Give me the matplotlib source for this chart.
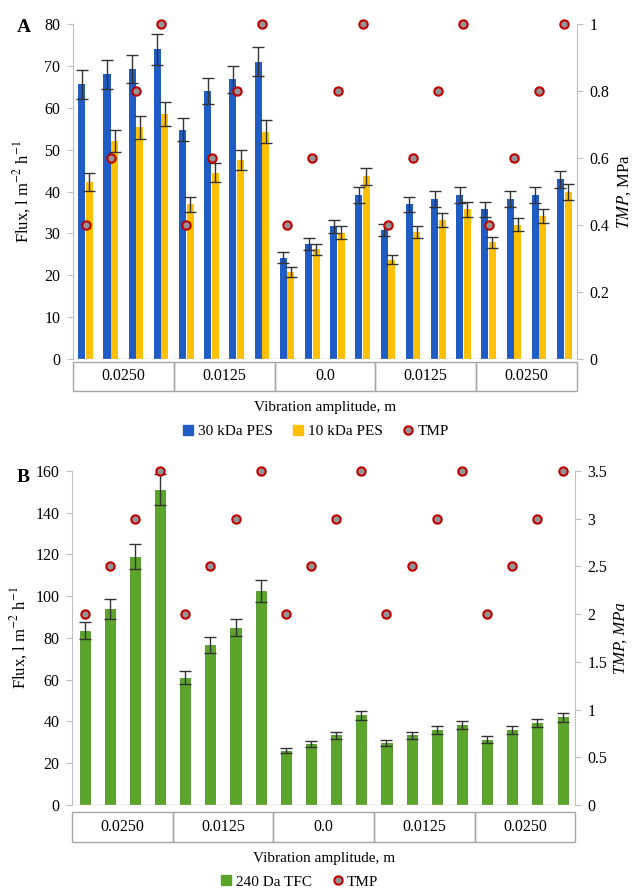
import matplotlib
matplotlib.use("Agg")
import matplotlib.pyplot as plt
from matplotlib.lines import Line2D
from matplotlib.patches import Rectangle
import numpy as np

plt.rcParams['font.family'] = ['Liberation Serif', 'DejaVu Serif']
plt.rcParams['mathtext.fontset'] = 'stix'

# section labels under the x axis (4 runs each)
sections = ["0.0250", "0.0125", "0.0", "0.0125", "0.0250"]

# panel A
pes30 = [65.6, 68.0, 69.3, 74.0, 54.8, 64.0, 66.8, 71.0,
         24.2, 27.5, 31.7, 39.2, 30.9, 37.0, 38.2, 39.2, 35.8, 38.2, 39.2, 42.9]
pes30_err = [3.4, 3.4, 3.4, 3.7, 2.8, 3.1, 3.3, 3.5, 1.3, 1.4,
             1.5, 2.0, 1.4, 1.8, 1.9, 2.0, 1.8, 1.9, 2.0, 2.1]
pes10 = [42.3, 52.0, 55.3, 58.5, 37.0, 44.5, 47.6, 54.3,
         20.8, 26.2, 30.2, 43.6, 23.7, 30.3, 33.3, 35.8, 27.9, 32.1, 34.2, 39.9]
pes10_err = [2.1, 2.6, 2.8, 2.9, 1.8, 2.3, 2.4, 2.7, 1.1, 1.3,
             1.5, 2.1, 1.1, 1.5, 1.7, 1.8, 1.3, 1.6, 1.7, 2.0]
tmp_a = [0.4, 0.6, 0.8, 1.0] * 5

# panel B
tfc240 = [83.5, 94.0, 119.0, 151.0, 61.0, 76.5, 85.0, 102.5,
          26.0, 29.3, 33.3, 43.0, 29.8, 33.3, 35.8, 38.2, 31.3, 35.8, 39.2, 42.0]
tfc240_err = [4.2, 4.7, 6.0, 7.5, 3.0, 3.8, 4.3, 5.1, 1.3, 1.5,
              1.7, 2.1, 1.4, 1.6, 1.8, 1.9, 1.6, 1.8, 2.0, 2.1]
tmp_b = [2.0, 2.5, 3.0, 3.5] * 5

blue = "#1f5cc4"
yellow = "#ffc000"
green = "#5aa52a"
tmp_face = "#939598"
tmp_edge = "#c00000"
grey = "#bfbfbf"

fig = plt.figure(figsize=(6.33, 8.91), dpi=100)
axA = fig.add_axes([0.1153, 0.597, 0.796, 0.376])
axB = fig.add_axes([0.1137, 0.0965, 0.795, 0.375])

x = np.arange(len(pes30))
ekw = dict(ecolor="#333333", elinewidth=1, capsize=4, capthick=1)


def style_axes(ax, ax2):
    for a in (ax, ax2):
        for s in ("top", "bottom"):
            a.spines[s].set_visible(False)
        a.spines["left"].set_color(grey)
        a.spines["right"].set_color(grey)
        a.tick_params(axis="y", colors=grey, labelcolor="black",
                      labelsize=11.5, length=4, direction="out", pad=5)
        a.set_xticks([])
    ax.spines["right"].set_visible(False)
    ax2.spines["left"].set_visible(False)
    ax.set_xlim(-0.5, 19.5)
    ax.axhline(0, color=grey, lw=1)


def section_boxes(ax, y0, y1):
    tr = ax.get_xaxis_transform()
    for i, lab in enumerate(sections):
        ax.add_patch(Rectangle((4 * i - 0.5, y1), 4, y0 - y1, transform=tr,
                               fill=False, ec="#a6a6a6", lw=1, clip_on=False))
        ax.text(4 * i + 1.5, (y0 + y1) / 2, lab, transform=tr, ha="center",
                va="center", fontsize=11.5)


# ---- panel A ----
axA.bar(x - 0.15, pes30, 0.28, color=blue, yerr=pes30_err, error_kw=ekw, zorder=2)
axA.bar(x + 0.15, pes10, 0.28, color=yellow, yerr=pes10_err, error_kw=ekw, zorder=2)
axA.set_ylim(0, 80)
axA.set_yticks(range(0, 81, 10))
axA2 = axA.twinx()
axA2.plot(x, tmp_a, "o", ms=6, mfc=tmp_face, mec=tmp_edge, mew=1.5, zorder=3,
          clip_on=False)
axA2.set_ylim(0, 1)
axA2.set_yticks([0, 0.2, 0.4, 0.6, 0.8, 1.0])
axA2.set_yticklabels(["0", "0.2", "0.4", "0.6", "0.8", "1"])
style_axes(axA, axA2)
axA.set_ylabel(r"Flux, l m$^{-2}$ h$^{-1}$", fontsize=12, labelpad=8)
axA2.set_ylabel(r"$\mathit{TMP}$, MPa", fontsize=12, labelpad=4)
section_boxes(axA, -0.008, -0.095)
axA.text(0.5, -0.145, "Vibration amplitude, m", transform=axA.transAxes,
         ha="center", va="center", fontsize=11)
hA = [Line2D([], [], ls="none", marker="s", ms=7, mfc=blue, mec=blue),
      Line2D([], [], ls="none", marker="s", ms=7, mfc=yellow, mec=yellow),
      Line2D([], [], ls="none", marker="o", ms=6, mfc=tmp_face, mec=tmp_edge, mew=1.5)]
axA.legend(hA, ["30 kDa PES", "10 kDa PES", "TMP"], loc="center",
           bbox_to_anchor=(0.48, -0.215), ncol=3, frameon=False, fontsize=11,
           handletextpad=0.1, columnspacing=1.2, handlelength=1)
fig.text(17 / 633, 1 - 28 / 891, "A", fontsize=14, fontweight="bold",
         ha="left", va="center")

# ---- panel B ----
axB.bar(x, tfc240, 0.4, color=green, ec="#4e9224", lw=0.6,
        yerr=tfc240_err, error_kw=ekw, zorder=2)
axB.set_ylim(0, 160)
axB.set_yticks(range(0, 161, 20))
axB2 = axB.twinx()
axB2.plot(x, tmp_b, "o", ms=6, mfc=tmp_face, mec=tmp_edge, mew=1.5, zorder=3,
          clip_on=False)
axB2.set_ylim(0, 3.5)
axB2.set_yticks(np.arange(0, 3.51, 0.5))
axB2.set_yticklabels(["0", "0.5", "1", "1.5", "2", "2.5", "3", "3.5"])
style_axes(axB, axB2)
axB.set_ylabel(r"Flux, l m$^{-2}$ h$^{-1}$", fontsize=12, labelpad=4)
axB2.set_ylabel("TMP, MPa", fontsize=12, style="italic", labelpad=4)
section_boxes(axB, -0.02, -0.11)
axB.text(0.5, -0.16, "Vibration amplitude, m", transform=axB.transAxes,
         ha="center", va="center", fontsize=11)
hB = [Line2D([], [], ls="none", marker="s", ms=7, mfc=green, mec=green),
      Line2D([], [], ls="none", marker="o", ms=6, mfc=tmp_face, mec=tmp_edge, mew=1.5)]
axB.legend(hB, ["240 Da TFC", "TMP"], loc="center",
           bbox_to_anchor=(0.45, -0.23), ncol=2, frameon=False, fontsize=11,
           handletextpad=0.1, columnspacing=1.2, handlelength=1)
fig.text(17 / 633, 1 - 478 / 891, "B", fontsize=14, fontweight="bold",
         ha="left", va="center")

fig.savefig("out.png", dpi=100)
